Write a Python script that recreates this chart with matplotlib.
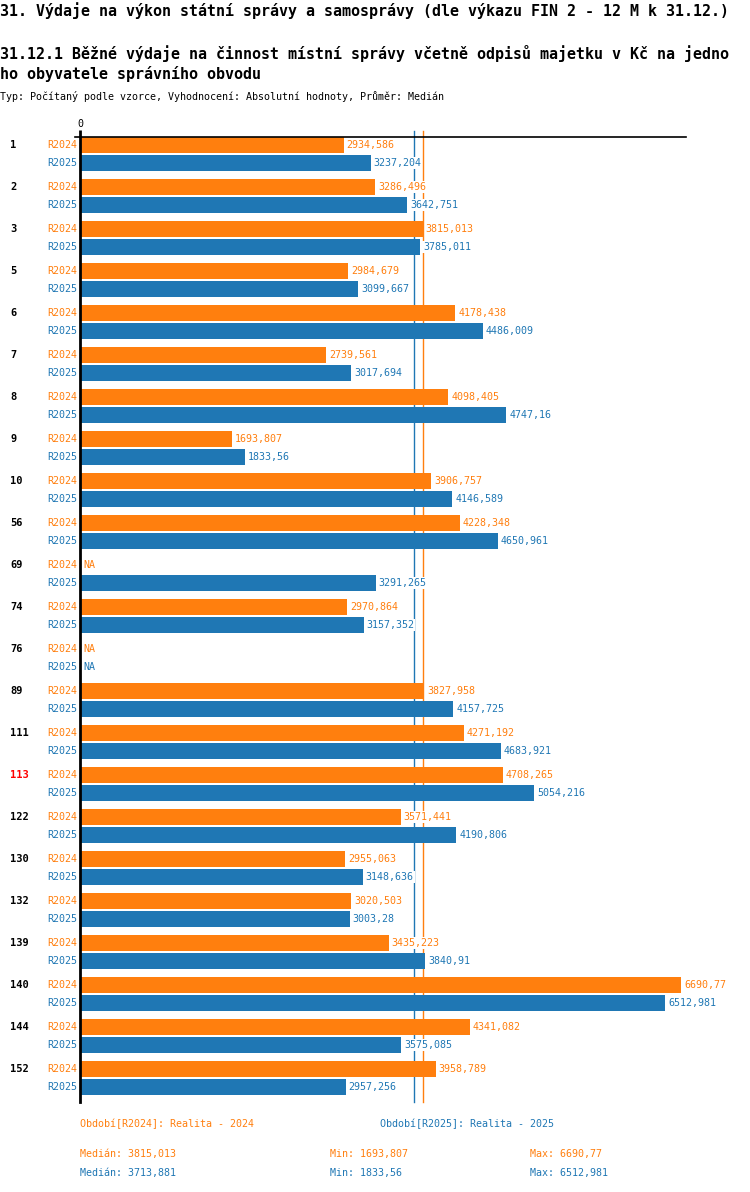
import numpy as np
import matplotlib
matplotlib.use("Agg")
import matplotlib.pyplot as plt

plt.rcParams['font.family'] = ['DejaVu Sans Mono']

# data
obce = ['1', '2', '3', '5', '6', '7', '8', '9', '10', '56', '69', '74', '76',
        '89', '111', '113', '122', '130', '132', '139', '140', '144', '152']
r2024 = [2934.586, 3286.496, 3815.013, 2984.679, 4178.438, 2739.561, 4098.405,
         1693.807, 3906.757, 4228.348, np.nan, 2970.864, np.nan, 3827.958,
         4271.192, 4708.265, 3571.441, 2955.063, 3020.503, 3435.223, 6690.77,
         4341.082, 3958.789]
r2025 = [3237.204, 3642.751, 3785.011, 3099.667, 4486.009, 3017.694, 4747.16,
         1833.56, 4146.589, 4650.961, 3291.265, 3157.352, np.nan, 4157.725,
         4683.921, 5054.216, 4190.806, 3148.636, 3003.28, 3840.91, 6512.981,
         3575.085, 2957.256]
highlight = '113'

c24 = '#ff7f0e'
c25 = '#1f77b4'

W, H = 750, 1192
fig = plt.figure(figsize=(W / 100, H / 100), dpi=100)

# axes in pixel geometry
ax_l, ax_r, ax_t, ax_b = 80, 686, 137, 1102
ax = fig.add_axes([ax_l / W, 1 - ax_b / H, (ax_r - ax_l) / W, (ax_b - ax_t) / H])

n = len(obce)
grp = 42.0  # px per group
idx = np.arange(n)
y24 = idx + 8 / grp
y25 = idx + 26 / grp
bh = 16 / grp

a24 = np.array(r2024)
a25 = np.array(r2025)
vmax = np.nanmax(np.concatenate([a24, a25]))
xmax = vmax * (ax_r - ax_l) / 601.0

ax.barh(y24, np.nan_to_num(a24), height=bh, color=c24, zorder=2)
ax.barh(y25, np.nan_to_num(a25), height=bh, color=c25, zorder=2)

ax.set_xlim(0, xmax)
ax.set_ylim((ax_b - ax_t) / grp, 0)

off = 3 * xmax / (ax_r - ax_l)


def fmt(v):
    return 'NA' if np.isnan(v) else str(v).replace('.', ',')


for yy, vals, col in [(y24, a24, c24), (y25, a25, c25)]:
    for y, v in zip(yy, vals):
        x = 0 if np.isnan(v) else v
        ax.text(x + off, y, fmt(v), color=col, fontsize=7.2,
                va='center', ha='left', zorder=3,
                bbox=dict(facecolor='white', edgecolor='none', pad=0.5))

# row labels
tr = ax.get_yaxis_transform()
for i, name in enumerate(obce):
    ax.text(-0.005, y24[i], 'R2024', transform=tr, color=c24, fontsize=7.2,
            va='center', ha='right')
    ax.text(-0.005, y25[i], 'R2025', transform=tr, color=c25, fontsize=7.2,
            va='center', ha='right')
    ax.text(-0.115, y24[i], name, transform=tr, fontsize=7.5,
            fontweight='bold', va='center', ha='left',
            color='red' if name == highlight else 'black')

# median lines
med24 = np.nanmedian(a24)
med25 = np.nanmedian(a25)
ax.axvline(med25, ymin=0, ymax=1 + 6 / (ax_b - ax_t), color=c25, lw=1,
           clip_on=False, zorder=1)
ax.axvline(med24, ymin=0, ymax=1 + 6 / (ax_b - ax_t), color=c24, lw=1,
           clip_on=False, zorder=1)

# frame
for s in ['right', 'bottom']:
    ax.spines[s].set_visible(False)
ax.spines['top'].set_linewidth(1.2)
ax.spines['left'].set_linewidth(2)
ax.spines['left'].set_zorder(4)
ax.set_yticks([])
ax.xaxis.tick_top()
ax.set_xticks([0])
ax.set_xticklabels(['0'], fontsize=7.2)
ax.tick_params(axis='x', length=5, width=2, pad=1)
ax.plot([-5 * xmax / (ax_r - ax_l), 0], [0, 0], color='black', lw=1.2,
        clip_on=False)


def ftext(x, y, s, **kw):
    fig.text(x / W, 1 - y / H, s, va='center', **kw)


ftext(0, 11, '31. Výdaje na výkon státní správy a samosprávy (dle výkazu FIN 2 - 12 M k 31.12.)',
      fontsize=10.8, fontweight='bold')
ftext(0, 53, '31.12.1 Běžné výdaje na činnost místní správy včetně odpisů majetku v Kč na jedno',
      fontsize=10.8, fontweight='bold')
ftext(0, 74, 'ho obyvatele správního obvodu', fontsize=10.8, fontweight='bold')
ftext(0, 97, 'Typ: Počítaný podle vzorce, Vyhodnocení: Absolutní hodnoty, Průměr: Medián',
      fontsize=7.2)

# legend / summary
ftext(80, 1124, 'Období[R2024]: Realita - 2024', fontsize=7.2, color=c24)
ftext(380, 1124, 'Období[R2025]: Realita - 2025', fontsize=7.2, color=c25)
ftext(80, 1154, 'Medián: ' + fmt(round(med24, 3)), fontsize=7.2, color=c24)
ftext(330, 1154, 'Min: ' + fmt(np.nanmin(a24)), fontsize=7.2, color=c24)
ftext(530, 1154, 'Max: ' + fmt(np.nanmax(a24)), fontsize=7.2, color=c24)
ftext(80, 1173, 'Medián: ' + fmt(round(med25, 3)), fontsize=7.2, color=c25)
ftext(330, 1173, 'Min: ' + fmt(np.nanmin(a25)), fontsize=7.2, color=c25)
ftext(530, 1173, 'Max: ' + fmt(np.nanmax(a25)), fontsize=7.2, color=c25)

fig.savefig('out.png', dpi=100)
